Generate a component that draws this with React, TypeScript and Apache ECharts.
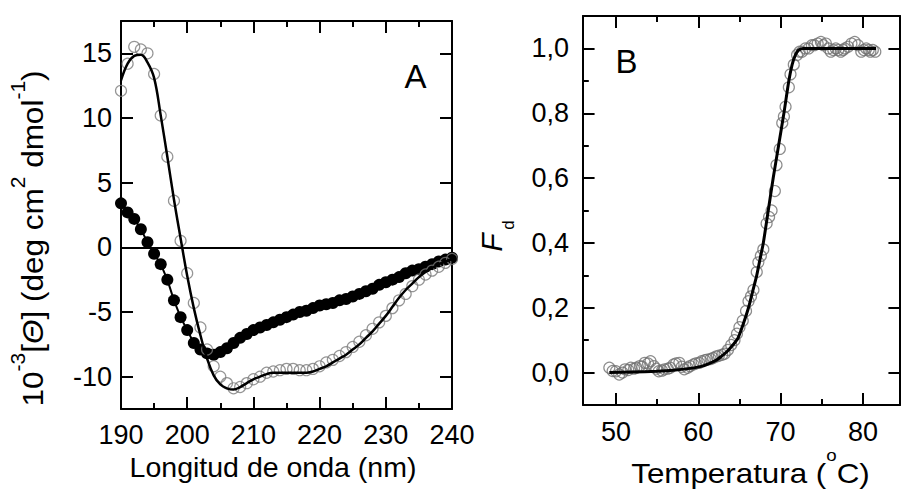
import React, { useEffect, useRef } from "react";
import * as echarts from "echarts";

// ---------- Panel A data (CD spectra) ----------
const wavelengthNm = [
  190, 191, 192, 193, 194, 195, 196, 197, 198, 199, 200, 201, 202, 203, 204, 205, 206,
  207, 208, 209, 210, 211, 212, 213, 214, 215, 216, 217, 218, 219, 220, 221, 222, 223,
  224, 225, 226, 227, 228, 229, 230, 231, 232, 233, 234, 235, 236, 237, 238, 239, 240,
];
const nativeCD = [
  12.1, 14.2, 15.5, 15.3, 15.0, 13.4, 10.2, 7.0, 3.6, 0.5, -2.0, -4.3, -6.2, -7.9, -9.2,
  -10.0, -10.5, -10.9, -10.8, -10.5, -10.2, -10.0, -9.7, -9.6, -9.5, -9.4, -9.4, -9.5,
  -9.5, -9.4, -9.2, -8.9, -8.7, -8.4, -8.1, -7.7, -7.3, -6.8, -6.3, -5.8, -5.3, -4.7,
  -4.1, -3.6, -3.0, -2.5, -2.1, -1.8, -1.5, -1.2, -0.9,
];
const nativeFit = [
  12.9, 14.2, 14.8, 14.9, 14.3, 13.1, 10.2, 7.0, 3.7, 0.7, -2.2, -4.7, -6.8, -8.6, -9.9,
  -10.6, -10.9, -11.0, -10.8, -10.5, -10.2, -10.0, -9.8, -9.7, -9.7, -9.7, -9.7, -9.7,
  -9.7, -9.6, -9.4, -9.2, -8.9, -8.6, -8.3, -7.9, -7.5, -7.0, -6.5, -5.9, -5.3, -4.6,
  -3.9, -3.3, -2.8, -2.3, -1.9, -1.6, -1.3, -1.1, -0.9,
];
const denaturedCD = [
  3.4, 2.7, 2.2, 1.4, 0.4, -0.5, -1.3, -2.5, -4.1, -5.4, -6.4, -7.4, -7.9, -8.2, -8.3,
  -8.1, -7.8, -7.4, -7.0, -6.7, -6.4, -6.2, -6.0, -5.8, -5.6, -5.4, -5.2, -5.0, -4.9,
  -4.7, -4.5, -4.4, -4.3, -4.1, -4.0, -3.8, -3.6, -3.4, -3.2, -2.9, -2.7, -2.5, -2.3,
  -2.0, -1.8, -1.7, -1.5, -1.3, -1.1, -0.95, -0.8,
];

// ---------- Panel B data (thermal denaturation) ----------
const meltObserved = [
  [49.2, 0.015], [49.6, 0.005], [50.0, 0.004], [50.4, -0.006], [50.8, 0.0], [51.1, 0.01],
  [51.5, 0.008], [51.8, 0.015], [52.2, 0.012], [52.5, 0.015], [52.9, 0.02], [53.2, 0.018],
  [53.5, 0.03], [53.9, 0.028], [54.2, 0.035], [54.6, 0.02], [54.9, 0.012], [55.2, 0.004],
  [55.6, 0.006], [55.9, 0.01], [56.3, 0.012], [56.6, 0.015], [57.0, 0.025], [57.3, 0.028],
  [57.7, 0.03], [58.0, 0.018], [58.3, 0.01], [58.7, 0.015], [59.0, 0.02], [59.4, 0.025],
  [59.7, 0.028], [60.1, 0.03], [60.4, 0.035], [60.8, 0.038], [61.1, 0.04], [61.5, 0.042],
  [61.8, 0.045], [62.2, 0.05], [62.5, 0.052], [62.9, 0.055], [63.2, 0.058], [63.6, 0.07],
  [64.0, 0.085], [64.4, 0.1], [64.7, 0.12], [65.0, 0.14], [65.4, 0.16], [65.8, 0.19],
  [66.1, 0.22], [66.4, 0.235], [66.7, 0.255], [67.1, 0.31], [67.3, 0.34], [67.6, 0.36],
  [67.9, 0.38], [68.3, 0.46], [68.6, 0.48], [68.9, 0.5], [69.3, 0.56], [69.5, 0.64],
  [69.9, 0.69], [70.2, 0.77], [70.4, 0.79], [70.6, 0.82], [71.0, 0.88], [71.2, 0.92],
  [71.6, 0.95], [72.0, 0.98], [72.3, 0.99], [72.6, 0.99], [73.0, 1.0], [73.4, 1.0],
  [73.8, 1.01], [74.1, 1.01], [74.5, 1.015], [74.9, 1.02], [75.2, 1.01], [75.5, 1.015],
  [75.8, 1.0], [76.1, 0.99], [76.4, 0.995], [76.7, 1.0], [77.0, 0.995], [77.3, 0.99],
  [77.6, 0.995], [77.8, 1.0], [78.2, 1.005], [78.6, 1.015], [79.0, 1.02], [79.4, 1.01],
  [79.8, 0.99], [80.1, 0.995], [80.4, 1.0], [80.7, 0.995], [80.9, 0.99], [81.2, 0.995],
  [81.5, 0.99],
];
const meltFit = [
  [49.2, 0.0], [52.0, 0.002], [55.0, 0.004], [57.0, 0.007], [59.0, 0.013], [60.5, 0.02],
  [61.5, 0.03], [62.3, 0.04], [62.8, 0.05], [63.5, 0.065], [64.2, 0.085], [64.8, 0.105],
  [65.4, 0.145], [66.1, 0.2], [66.6, 0.25], [67.1, 0.3], [67.5, 0.35], [67.9, 0.4],
  [68.5, 0.5], [69.1, 0.6], [69.75, 0.7], [70.4, 0.8], [71.0, 0.9], [71.4, 0.95],
  [71.8, 0.98], [72.2, 0.995], [72.8, 1.0], [81.6, 1.0],
];

// ---------- tick values ----------
const ticksA_x = [190, 200, 210, 220, 230, 240];
const minorA_x = [195, 205, 215, 225, 235];
const ticksA_y = [-10, -5, 0, 5, 10, 15];
const ticksB_x = [50, 60, 70, 80];
const minorB_x = [55, 65, 75];
const ticksB_y = [0, 0.2, 0.4, 0.6, 0.8, 1.0];
const minorB_y = [0.1, 0.3, 0.5, 0.7, 0.9];

const extA_x = [190, 240];
const extA_y = [-12.5, 17.5];
const extB_x = [46, 84.5];
const extB_y = [-0.1, 1.1];

const FONT = '"Liberation Sans", Arial, Helvetica, sans-serif';
const TICK_FONT = 27;
const MAJOR_PX = 12;
const MINOR_PX = 6;

const gridA = { left: 121, top: 21, width: 331, height: 388 };
const gridB = { left: 583, top: 16, width: 328.5, height: 389 };

function valueAxis(opts: any) {
  const { gridIndex, position, ext, showLabel, formatter, margin } = opts;
  return {
    type: "value",
    gridIndex,
    position,
    min: ext[0],
    max: ext[1],
    splitNumber: 5,
    axisLine: { show: true, onZero: false, lineStyle: { color: "#000", width: 2 } },
    axisTick: { show: false },
    minorTick: { show: false },
    splitLine: { show: false },
    axisLabel: {
      show: showLabel,
      margin,
      color: "#000",
      fontSize: TICK_FONT,
      fontFamily: FONT,
      formatter,
    },
  };
}

// inward tick segments as markLine items (data units), mirrored on both sides where asked
function tickSegments(
  grid: any, xExt: number[], yExt: number[],
  xMajor: number[], xMinor: number[], yMajor: number[], yMinor: number[], yMinorMirrored: boolean,
) {
  const pxPerX = grid.width / (xExt[1] - xExt[0]);
  const pxPerY = grid.height / (yExt[1] - yExt[0]);
  const segs: any[] = [];
  const xTick = (v: number, px: number) => {
    const dy = px / pxPerY;
    segs.push([{ coord: [v, yExt[0]] }, { coord: [v, yExt[0] + dy] }]);
    segs.push([{ coord: [v, yExt[1]] }, { coord: [v, yExt[1] - dy] }]);
  };
  const yTick = (v: number, px: number, mirrored: boolean) => {
    const dx = px / pxPerX;
    segs.push([{ coord: [xExt[0], v] }, { coord: [xExt[0] + dx, v] }]);
    if (mirrored) segs.push([{ coord: [xExt[1], v] }, { coord: [xExt[1] - dx, v] }]);
  };
  xMajor.forEach((v) => xTick(v, MAJOR_PX));
  xMinor.forEach((v) => xTick(v, MINOR_PX));
  yMajor.forEach((v) => yTick(v, MAJOR_PX, true));
  yMinor.forEach((v) => yTick(v, MINOR_PX, yMinorMirrored));
  return segs;
}

const fmtA_x = (v: number) => (ticksA_x.some((t) => Math.abs(t - v) < 1e-6) ? String(v) : "");
const fmtA_y = (v: number) => (ticksA_y.some((t) => Math.abs(t - v) < 1e-6) ? String(v) : "");
const fmtB_x = (v: number) => (ticksB_x.some((t) => Math.abs(t - v) < 1e-6) ? String(v) : "");
const fmtB_y = (v: number) =>
  ticksB_y.some((t) => Math.abs(t - v) < 1e-6) ? v.toFixed(1).replace(".", ",") : "";

export default function App() {
  const ref = useRef<HTMLDivElement>(null);

  useEffect(() => {
    if (!ref.current) return;
    const chart = echarts.init(ref.current, undefined, { renderer: "svg" });

    const ticksA = tickSegments(gridA, extA_x, extA_y, ticksA_x, minorA_x, ticksA_y, [], true);
    const ticksB = tickSegments(gridB, extB_x, extB_y, ticksB_x, minorB_x, ticksB_y, minorB_y, false);

    const tickMarkLine = (items: any[]) => ({
      silent: true,
      symbol: ["none", "none"],
      label: { show: false },
      emphasis: { disabled: true },
      lineStyle: { color: "#000", width: 2, type: "solid" },
      data: items,
    });

    const option: any = {
      animation: false,
      grid: [gridA, gridB],
      xAxis: [
        valueAxis({ gridIndex: 0, position: "bottom", ext: extA_x, showLabel: true, formatter: fmtA_x, margin: 12 }),
        valueAxis({ gridIndex: 0, position: "top", ext: extA_x, showLabel: false, formatter: fmtA_x, margin: 12 }),
        valueAxis({ gridIndex: 1, position: "bottom", ext: extB_x, showLabel: true, formatter: fmtB_x, margin: 13 }),
        valueAxis({ gridIndex: 1, position: "top", ext: extB_x, showLabel: false, formatter: fmtB_x, margin: 13 }),
      ],
      yAxis: [
        valueAxis({ gridIndex: 0, position: "left", ext: extA_y, showLabel: true, formatter: fmtA_y, margin: 9 }),
        valueAxis({ gridIndex: 0, position: "right", ext: extA_y, showLabel: false, formatter: fmtA_y, margin: 9 }),
        valueAxis({ gridIndex: 1, position: "left", ext: extB_y, showLabel: true, formatter: fmtB_y, margin: 14 }),
        valueAxis({ gridIndex: 1, position: "right", ext: extB_y, showLabel: false, formatter: fmtB_y, margin: 14 }),
      ],
      series: [
        {
          name: "desnaturalizada",
          type: "line",
          xAxisIndex: 0,
          yAxisIndex: 0,
          data: wavelengthNm.map((w, i) => [w, denaturedCD[i]]),
          symbol: "circle",
          symbolSize: 12,
          showSymbol: true,
          lineStyle: { color: "#000", width: 2 },
          itemStyle: { color: "#000", borderColor: "#000", borderWidth: 0 },
          z: 3,
        },
        {
          name: "nativa",
          type: "scatter",
          xAxisIndex: 0,
          yAxisIndex: 0,
          data: wavelengthNm.map((w, i) => [w, nativeCD[i]]),
          symbol: "circle",
          symbolSize: 11,
          itemStyle: { color: "rgba(0,0,0,0)", borderColor: "#7a7a7a", borderWidth: 1.2 },
          z: 4,
        },
        {
          name: "ajuste",
          type: "line",
          xAxisIndex: 0,
          yAxisIndex: 0,
          data: wavelengthNm.map((w, i) => [w, nativeFit[i]]),
          smooth: 0.4,
          showSymbol: false,
          symbol: "none",
          lineStyle: { color: "#000", width: 2.5 },
          z: 5,
          markLine: tickMarkLine([{ yAxis: 0 }, ...ticksA]),
        },
        {
          name: "Fd",
          type: "scatter",
          xAxisIndex: 2,
          yAxisIndex: 2,
          data: meltObserved,
          symbol: "circle",
          symbolSize: 11,
          itemStyle: { color: "rgba(0,0,0,0)", borderColor: "#707070", borderWidth: 1.2 },
          z: 4,
        },
        {
          name: "Fd ajuste",
          type: "line",
          xAxisIndex: 2,
          yAxisIndex: 2,
          data: meltFit,
          smooth: 0.2,
          showSymbol: false,
          symbol: "none",
          lineStyle: { color: "#000", width: 3 },
          z: 5,
          markLine: tickMarkLine(ticksB),
        },
      ],
      graphic: [
        {
          type: "text",
          x: 415.5,
          y: 76,
          style: { text: "A", fontSize: 33, fontFamily: FONT, fill: "#000", align: "center", verticalAlign: "middle" },
        },
        {
          type: "text",
          x: 626.5,
          y: 61.5,
          style: { text: "B", fontSize: 33, fontFamily: FONT, fill: "#000", align: "center", verticalAlign: "middle" },
        },
        {
          type: "text",
          x: 273,
          y: 467,
          style: {
            text: "Longitud de onda (nm)",
            fontSize: 28.5,
            fontFamily: FONT,
            fill: "#000",
            align: "center",
            verticalAlign: "middle",
          },
        },
        {
          type: "text",
          x: 750.5,
          y: 467,
          scaleX: 1.1,
          style: {
            text: "{m|Temperatura (}{o|o}{m|C)}",
            align: "center",
            verticalAlign: "middle",
            rich: {
              m: { fontSize: 28.5, fontFamily: FONT, fill: "#000", lineHeight: 40, verticalAlign: "bottom" },
              o: { fontSize: 17, fontFamily: FONT, fill: "#000", lineHeight: 20, verticalAlign: "top" },
            },
          },
        },
        {
          type: "text",
          x: 27.5,
          y: 238.5,
          rotation: Math.PI / 2,
          scaleX: 1.05,
          style: {
            text: "{m|10}{s|-3}{m|[}{i|Θ}{m|] (deg cm}{s|2}{m| dmol}{s|-1}{m|)}",
            align: "center",
            verticalAlign: "middle",
            rich: {
              m: { fontSize: 30, fontFamily: FONT, fill: "#000", lineHeight: 40, verticalAlign: "bottom" },
              i: { fontSize: 30, fontFamily: FONT, fontStyle: "italic", fill: "#000", lineHeight: 40, verticalAlign: "bottom" },
              s: { fontSize: 20, fontFamily: FONT, fill: "#000", lineHeight: 9, verticalAlign: "top" },
            },
          },
        },
        {
          type: "text",
          x: 491,
          y: 242.5,
          rotation: Math.PI / 2,
          style: { text: "F", fontSize: 30, fontStyle: "italic", fontFamily: FONT, fill: "#000", align: "center", verticalAlign: "middle" },
        },
        {
          type: "text",
          x: 508,
          y: 225,
          rotation: Math.PI / 2,
          style: { text: "d", fontSize: 17, fontFamily: FONT, fill: "#000", align: "center", verticalAlign: "middle" },
        },
      ],
    };

    chart.setOption(option);
    return () => chart.dispose();
  }, []);

  return <div ref={ref} style={{ position: "absolute", left: 0, top: 0, width: 903, height: 492 }} />;
}
